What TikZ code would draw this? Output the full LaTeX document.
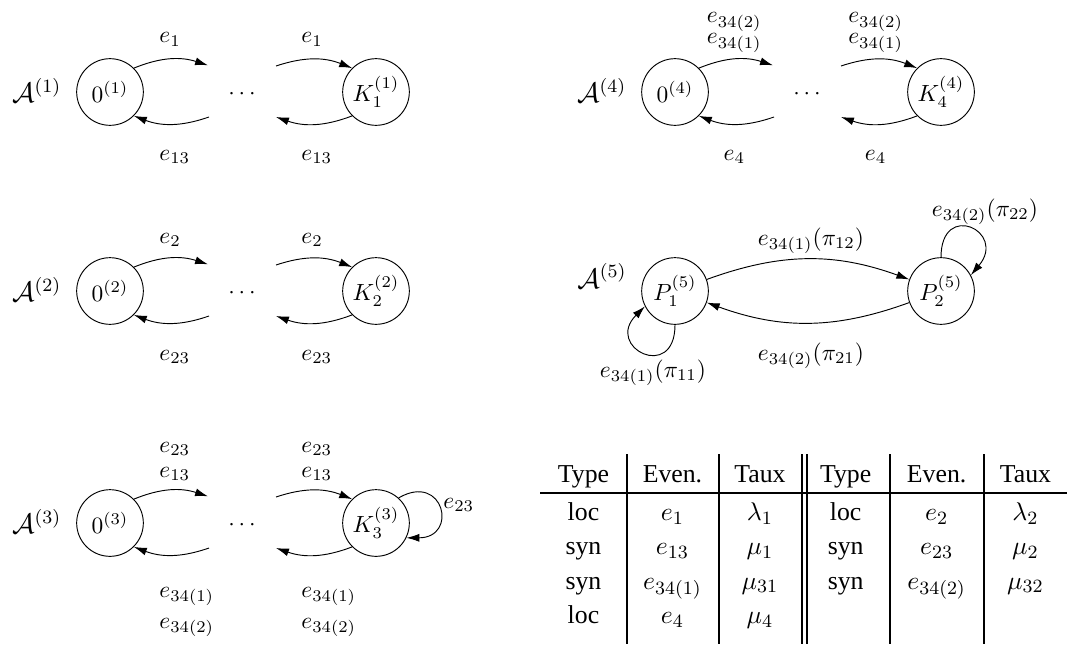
\documentclass[tikz,border=0pt]{standalone}
\usepackage[no-math]{fontspec}
\newfontfamily\tabfont{Liberation Serif}
\usetikzlibrary{matrix, arrows.meta}

\tikzset{
  etat/.style={draw, circle, minimum size=1cm, inner sep=0pt},
  lbl/.style={inner sep=0pt, anchor=base west},
  lblc/.style={inner sep=0pt, anchor=base},
  nom/.style={anchor=base, font=\large},
}

\begin{document}
\begin{tikzpicture}[>={Latex[length=5.5pt, width=3.4pt]}]
\useasboundingbox (0,0) rectangle (16.005,9.69);

% chaines 0 ... K
\foreach \n/\x/\y in {1/1.65/8.31, 2/1.65/5.325, 3/1.65/1.845, 4/10.125/8.31} {
  \node[etat] (z\n) at (\x,\y) {$0^{(\n)}$};
  \node[etat] (k\n) at ([xshift=3.99cm]z\n.center) {$K_\n^{(\n)}$};
  \node (d\n) at ([shift={(1.98,-0.03)}]z\n.center) {$\cdots$};
  \node[nom] (a\n) at ([xshift=-1.1cm]z\n.base) {$\mathcal{A}^{(\n)}$};
  \coordinate (zu\n) at ([shift={(1.47,0.4)}]z\n.center);
  \coordinate (zl\n) at ([shift={(1.485,-0.375)}]z\n.center);
  \coordinate (ku\n) at ([shift={(-1.5,0.39)}]k\n.center);
  \coordinate (kl\n) at ([shift={(-1.5,-0.375)}]k\n.center);
  \draw[->] (z\n.45) to[bend left=20] (zu\n);
  \draw[->] (ku\n) to[bend left=20] (k\n.135);
  \draw[->] (k\n.225) to[bend left=20] (kl\n);
  \draw[->] (zl\n) to[bend left=20] (z\n.315);
};

% etiquettes A(1)
\node[lbl] (e1a) at ([shift={(0.735,0.735)}]z1.center) {$e_1$};
\node[lbl] (e1b) at ([shift={(-1.125,0.735)}]k1.center) {$e_1$};
\node[lbl] (e1c) at ([shift={(0.735,-1.02)}]z1.center) {$e_{13}$};
\node[lbl] (e1d) at ([shift={(-1.125,-1.02)}]k1.center) {$e_{13}$};

% etiquettes A(2)
\node[lbl] (e2a) at ([shift={(0.735,0.72)}]z2.center) {$e_2$};
\node[lbl] (e2b) at ([shift={(-1.125,0.72)}]k2.center) {$e_2$};
\node[lbl] (e2c) at ([shift={(0.735,-1.035)}]z2.center) {$e_{23}$};
\node[lbl] (e2d) at ([shift={(-1.125,-1.035)}]k2.center) {$e_{23}$};

% etiquettes A(3)
\node[lbl] (e3a) at ([shift={(0.735,1.065)}]z3.center) {$e_{23}$};
\node[lbl] (e3b) at ([shift={(0.735,0.69)}]z3.center) {$e_{13}$};
\node[lbl] (e3c) at ([shift={(-1.125,1.065)}]k3.center) {$e_{23}$};
\node[lbl] (e3d) at ([shift={(-1.125,0.69)}]k3.center) {$e_{13}$};
\node[lbl] (e3e) at ([shift={(0.735,-1.11)}]z3.center) {$e_{34(1)}$};
\node[lbl] (e3f) at ([shift={(0.735,-1.575)}]z3.center) {$e_{34(2)}$};
\node[lbl] (e3g) at ([shift={(-1.125,-1.11)}]k3.center) {$e_{34(1)}$};
\node[lbl] (e3h) at ([shift={(-1.125,-1.575)}]k3.center) {$e_{34(2)}$};
\draw[->] (k3.48) to[out=30, in=0, looseness=3.3] (k3.-26);
\node[lbl] (e3i) at ([shift={(1.005,0.225)}]k3.center) {$e_{23}$};

% etiquettes A(4)
\node[lblc] (e4a) at ([shift={(0.89,1.035)}]z4.center) {$e_{34(2)}$};
\node[lblc] (e4b) at ([shift={(0.89,0.72)}]z4.center) {$e_{34(1)}$};
\node[lblc] (e4c) at ([shift={(-0.98,1.035)}]k4.center) {$e_{34(2)}$};
\node[lblc] (e4d) at ([shift={(-0.98,0.72)}]k4.center) {$e_{34(1)}$};
\node[lblc] (e4e) at ([shift={(0.89,-1.02)}]z4.center) {$e_4$};
\node[lblc] (e4f) at ([shift={(-0.98,-1.02)}]k4.center) {$e_4$};

% A(5)
\node[etat] (p1) at (10.125,5.325) {$P_1^{(5)}$};
\node[etat] (p2) at (14.115,5.325) {$P_2^{(5)}$};
\node[nom] (a5) at (9.03,5.37) {$\mathcal{A}^{(5)}$};
\draw[->] (p1) to[bend left=20] (p2);
\draw[->] (p2) to[bend left=20] (p1);
\draw[->] (p1.270) to[out=-90, in=225, looseness=4.2] (p1.207);
\draw[->] (p2.90) to[out=90, in=50, looseness=4.2] (p2.28);
\node[lblc] (e5a) at (12.165,6.015) {$e_{34(1)}(\pi_{12})$};
\node[lblc] (e5b) at (12.165,4.29) {$e_{34(2)}(\pi_{21})$};
\node[lblc] (e5c) at (9.795,4.035) {$e_{34(1)}(\pi_{11})$};
\node[lblc] (e5d) at (14.775,6.45) {$e_{34(2)}(\pi_{22})$};

% tableau des evenements
\matrix (m) [matrix of nodes, nodes in empty cells, anchor=north west,
inner sep=0pt, column sep=0, row sep=0,
nodes={inner sep=0pt, text height=0.42cm, text depth=0.095cm,
  font=\tabfont\fontsize{11}{13}\selectfont},
row 1/.style={nodes={text depth=0.15cm}},
row 5/.style={nodes={text depth=0.3cm}},
column 1/.style={nodes={minimum width=1.29cm}},
column 2/.style={nodes={minimum width=1.38cm}},
column 3/.style={nodes={minimum width=1.245cm}},
column 4/.style={nodes={minimum width=1.325cm}},
column 5/.style={nodes={minimum width=1.405cm}},
column 6/.style={nodes={minimum width=1.26cm}}] at (8.1,2.88) {
Type &Even. &Taux &Type &Even. &Taux\\
loc &$e_1$ &$\lambda_1$ &loc &$e_2$ &$\lambda_2$\\
syn &$e_{13}$ &$\mu_1$ &syn &$e_{23}$ &$\mu_2$\\
syn &$e_{34(1)}$ &$\mu_{31}$ &syn &$e_{34(2)}$ &$\mu_{32}$\\
loc &$e_4$ &$\mu_4$ & & &\\
};

\draw[thick] (m-1-1.south west) -- (m-1-6.south east);
\foreach \col in {1, 2, 3, 4, 5} {
\draw[thick] (m-1-\col.north east) -- (m-5-\col.south east);
};
\draw[thick] ([xshift=0.075cm]m-1-3.north east) -- ([xshift=0.075cm]m-5-3.south east);

\end{tikzpicture}
\end{document}
